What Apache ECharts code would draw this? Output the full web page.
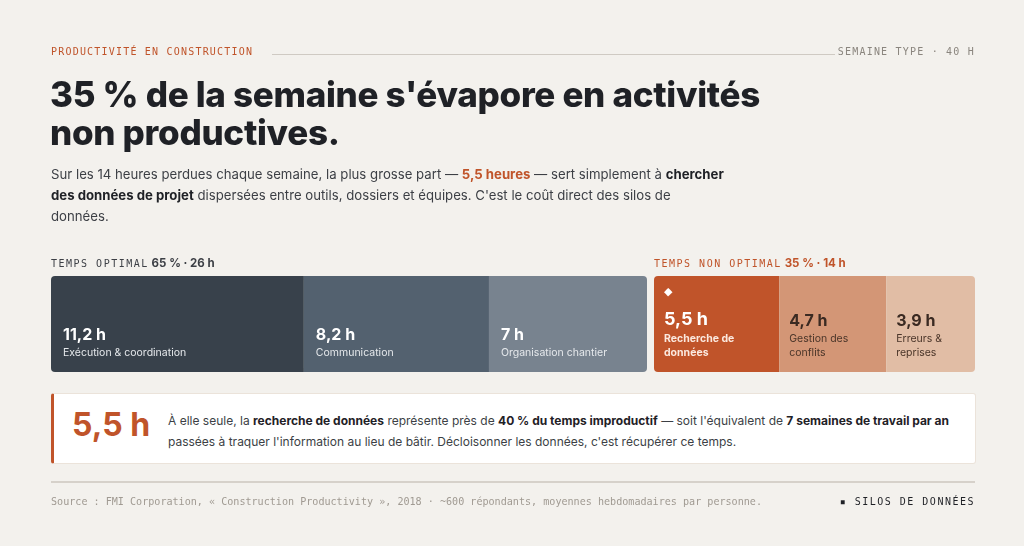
<!DOCTYPE html>
<html><head><meta charset="utf-8">
<script src="https://cdn.jsdelivr.net/npm/echarts@6/dist/echarts.min.js"></script>
<style>
  body { margin:0; width:1024px; height:546px; background:#f3f1ed; font-family:Inter, "Noto Sans", sans-serif; position:relative; overflow:hidden; }
  #chart { position:absolute; left:0; top:0; width:1024px; height:546px; }
  .t { position:absolute; white-space:nowrap; }
  .mono { font-family:"DejaVu Sans Mono", monospace; letter-spacing:1.5px; }
</style></head>
<body>
<div id="chart"></div>
<div class="t mono" style="left:51px;top:46px;font-size:10px;letter-spacing:1.2px;color:#c0542a;">PRODUCTIVITÉ EN CONSTRUCTION</div>
<div style="position:absolute;left:272px;top:54px;width:563px;border-top:1px solid #cfcac3;"></div>
<div class="t mono" style="right:49px;top:46px;font-size:10px;letter-spacing:1.2px;color:#8a857e;">SEMAINE TYPE · 40 H</div>
<div class="t" style="left:50px;top:75px;font-size:35px;font-weight:800;line-height:38px;color:#1f2126;letter-spacing:-0.3px;">35 % de la semaine s'évapore en activités<br>non productives.</div>
<div class="t" style="left:51px;top:164px;font-size:13.2px;line-height:21px;color:#3c3f45;">Sur les 14 heures perdues chaque semaine, la plus grosse part — <b style="color:#c0542a">5,5 heures</b> — sert simplement à <b style="color:#1f2126">chercher</b><br><b style="color:#1f2126">des données de projet</b> dispersées entre outils, dossiers et équipes. C'est le coût direct des silos de<br>données.</div>
<div class="t" style="left:51px;top:256px;font-size:10px;color:#3c3f45;"><span class="mono">TEMPS OPTIMAL</span> <b style="font-size:11.5px;">65 % · 26 h</b></div>
<div class="t" style="left:654px;top:256px;font-size:10px;color:#c0542a;"><span class="mono">TEMPS NON OPTIMAL</span> <b style="font-size:11.5px;">35 % · 14 h</b></div>
<div style="position:absolute;left:51px;top:393px;width:921px;height:69px;background:#fff;border:1px solid #ebe3da;border-left:3px solid #c0542a;border-radius:3px;"></div>
<div class="t" style="left:72px;top:405px;font-size:32px;font-weight:700;color:#c0542a;">5,5 h</div>
<div class="t" style="left:168px;top:410px;font-size:12px;line-height:21px;color:#3c3f45;">À elle seule, la <b style="color:#1f2126">recherche de données</b> représente près de <b style="color:#1f2126">40 % du temps improductif</b> — soit l'équivalent de <b style="color:#1f2126">7 semaines de travail par an</b><br>passées à traquer l'information au lieu de bâtir. Décloisonner les données, c'est récupérer ce temps.</div>
<div style="position:absolute;left:51px;top:481px;width:924px;border-top:2px solid #d6d1ca;"></div>
<div class="t" style="left:51px;top:496px;font-size:10.1px;color:#a09a92;font-family:'DejaVu Sans Mono',monospace;">Source : FMI Corporation, « Construction Productivity », 2018 · ~600 répondants, moyennes hebdomadaires par personne.</div>
<div class="t mono" style="right:49px;top:496px;font-size:10px;color:#1f2126;">▪ SILOS DE DONNÉES</div>
<script>
const optNames = ['Exécution & coordination', 'Communication', 'Organisation chantier'];
const optValues = [11.2, 8.2, 7];
const optColors = ['#38414b', '#53616f', '#78838f'];
const lostNames = ['Recherche de\ndonnées', 'Gestion des\nconflits', 'Erreurs &\nreprises'];
const lostValues = [5.5, 4.7, 3.9];
const lostColors = ['#c0542a', '#d39676', '#e1bda5'];

const fmt = v => String(v).replace('.', ',') + ' h';
const sum = a => a.reduce((s, v) => s + v, 0);

function mkSeries(names, values, colors, gi, lost) {
  return values.map((v, i) => {
    const last = i === values.length - 1, first = i === 0;
    const r = [first ? 4 : 0, last ? 4 : 0, last ? 4 : 0, first ? 4 : 0];
    const dark = !lost || i === 0;
    const big = lost && i === 0;
    let fmtStr = '{v|' + fmt(v) + '}\n{n|' + names[i].split('\n').join('}\n{n|') + '}';
    if (big) fmtStr = '{d|◆}\n{v|' + fmt(v) + '}\n{n|' + names[i].split('\n').join('}\n{n|') + '}';
    return {
      type: 'bar', stack: 's' + gi, xAxisIndex: gi, yAxisIndex: gi, barWidth: 96,
      data: [v], itemStyle: { color: colors[i], borderRadius: r, borderWidth: 0 },
      label: {
        show: true, position: 'insideBottomLeft', distance: 0,
        padding: lost ? [0, 0, 12, 10] : [0, 0, 12, 12],
        formatter: fmtStr,
        rich: {
          d: { fontSize: 11, color: '#fff', lineHeight: 28, padding: [0, 0, 4, 0] },
          v: { fontSize: big ? 18 : 16, fontWeight: 'bold', color: dark ? '#fff' : '#3a2a22', lineHeight: big ? 24 : 22, fontFamily: 'Inter' },
          n: { fontSize: 10.5, fontWeight: big ? 'bold' : 'normal', color: dark ? (big ? '#fbe9df' : '#e6e9ec') : '#4a3529', lineHeight: 14, fontFamily: 'Inter' }
        }
      }
    };
  });
}

const chart = echarts.init(document.getElementById('chart'));
chart.setOption({
  animation: false,
  grid: [
    { left: 51, top: 276, width: 596, height: 96 },
    { left: 654, top: 276, width: 321, height: 96 }
  ],
  xAxis: [
    { gridIndex: 0, type: 'value', min: 0, max: sum(optValues), show: false },
    { gridIndex: 1, type: 'value', min: 0, max: sum(lostValues), show: false }
  ],
  yAxis: [
    { gridIndex: 0, type: 'category', data: ['opt'], show: false },
    { gridIndex: 1, type: 'category', data: ['lost'], show: false }
  ],
  series: [...mkSeries(optNames, optValues, optColors, 0, false), ...mkSeries(lostNames, lostValues, lostColors, 1, true)]
});
</script>
</body></html>
